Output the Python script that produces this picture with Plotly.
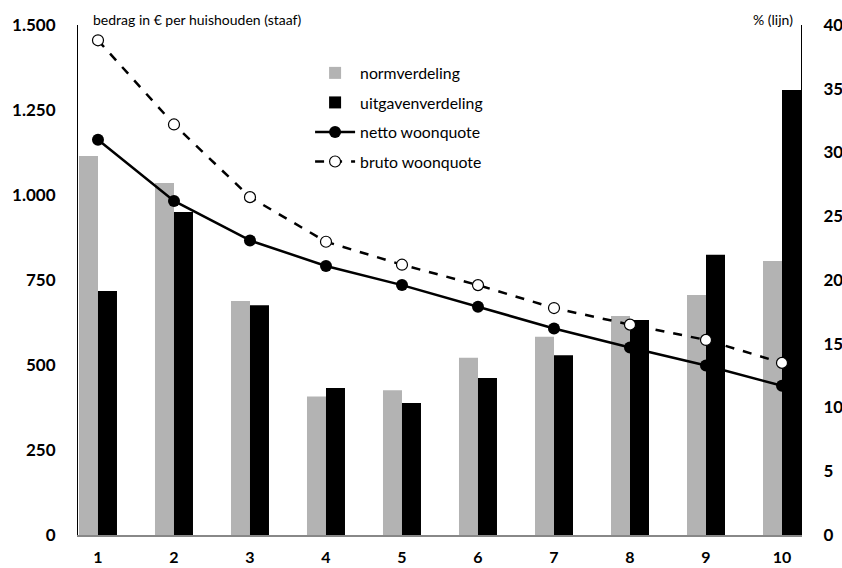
import plotly.graph_objects as go

categories = [1, 2, 3, 4, 5, 6, 7, 8, 9, 10]
normverdeling = [1115, 1035, 688, 407, 426, 521, 583, 644, 706, 806]
uitgavenverdeling = [718, 950, 676, 432, 388, 462, 529, 632, 824, 1309]
netto_woonquote = [31.0, 26.2, 23.1, 21.1, 19.6, 17.9, 16.2, 14.7, 13.3, 11.7]
bruto_woonquote = [38.8, 32.2, 26.5, 23.0, 21.2, 19.6, 17.8, 16.5, 15.3, 13.5]

left_ticks = [0, 250, 500, 750, 1000, 1250, 1500]
right_ticks = [0, 5, 10, 15, 20, 25, 30, 35, 40]

FONT = "Lato"

fig = go.Figure()
fig.add_trace(go.Bar(x=categories, y=normverdeling, name="normverdeling",
                     marker=dict(color="#b3b3b3", line=dict(width=0)),
                     legendgroup="a"))
fig.add_trace(go.Bar(x=categories, y=uitgavenverdeling, name="uitgavenverdeling",
                     marker=dict(color="#000000", line=dict(width=0)),
                     legendgroup="b"))
fig.add_trace(go.Scatter(x=categories, y=netto_woonquote, name="netto woonquote",
                         yaxis="y2", mode="lines+markers",
                         line=dict(color="#000000", width=2.5),
                         marker=dict(color="#000000", size=12, line=dict(width=0)),
                         legendgroup="c"))
fig.add_trace(go.Scatter(x=categories, y=bruto_woonquote, name="bruto woonquote",
                         yaxis="y2", mode="lines+markers",
                         line=dict(color="#000000", width=2.5, dash="dash"),
                         marker=dict(color="#ffffff", size=11,
                                     line=dict(color="#000000", width=1.2)),
                         legendgroup="d"))

fig.update_layout(
    width=842, height=568,
    margin=dict(l=78, r=41, t=25, b=33),
    paper_bgcolor="white", plot_bgcolor="white",
    separators=",.",
    barmode="group", bargap=0.5, bargroupgap=0,
    font=dict(family=FONT, size=14, color="#000000"),
    showlegend=True,
    legend=dict(x=0.321, y=0.939, xanchor="left", yanchor="top",
                bgcolor="rgba(0,0,0,0)", tracegroupgap=6,
                traceorder="grouped", itemwidth=40,
                font=dict(family=FONT, size=15.8)),
    xaxis=dict(range=[0.737, 10.25], tickvals=categories,
               ticktext=[str(c) for c in categories], automargin=False,
               showline=True, linecolor="#888888", linewidth=1.5,
               showgrid=False, zeroline=False, ticks="",
               ticklabelstandoff=7,
               tickfont=dict(family=FONT, size=16, weight="bold")),
    yaxis=dict(range=[0, 1500], tickvals=left_ticks, tickformat=",.0f",
               automargin=False,
               showline=True, linecolor="#000000", linewidth=1.2,
               showgrid=False, zeroline=False, ticks="",
               ticklabelstandoff=18,
               tickfont=dict(family=FONT, size=17, weight="bold")),
    yaxis2=dict(range=[0, 40], tickvals=right_ticks, overlaying="y", side="right",
                automargin=False,
                showline=True, linecolor="#000000", linewidth=1.2,
                showgrid=False, zeroline=False, ticks="",
                ticklabelstandoff=18,
                tickfont=dict(family=FONT, size=17, weight="bold")),
    annotations=[
        dict(text="bedrag in € per huishouden (staaf)", xref="paper", yref="paper",
             x=0.018, y=1.01, xanchor="left", yanchor="middle", showarrow=False,
             font=dict(family=FONT, size=14)),
        dict(text="% (lijn)", xref="paper", yref="paper",
             x=0.992, y=1.01, xanchor="right", yanchor="middle", showarrow=False,
             font=dict(family=FONT, size=14)),
    ],
)

fig.write_html(
    "out.html",
    config={"displayModeBar": False},
    post_script="document.body.style.margin='0';"
                "document.documentElement.style.overflow='hidden';",
)
